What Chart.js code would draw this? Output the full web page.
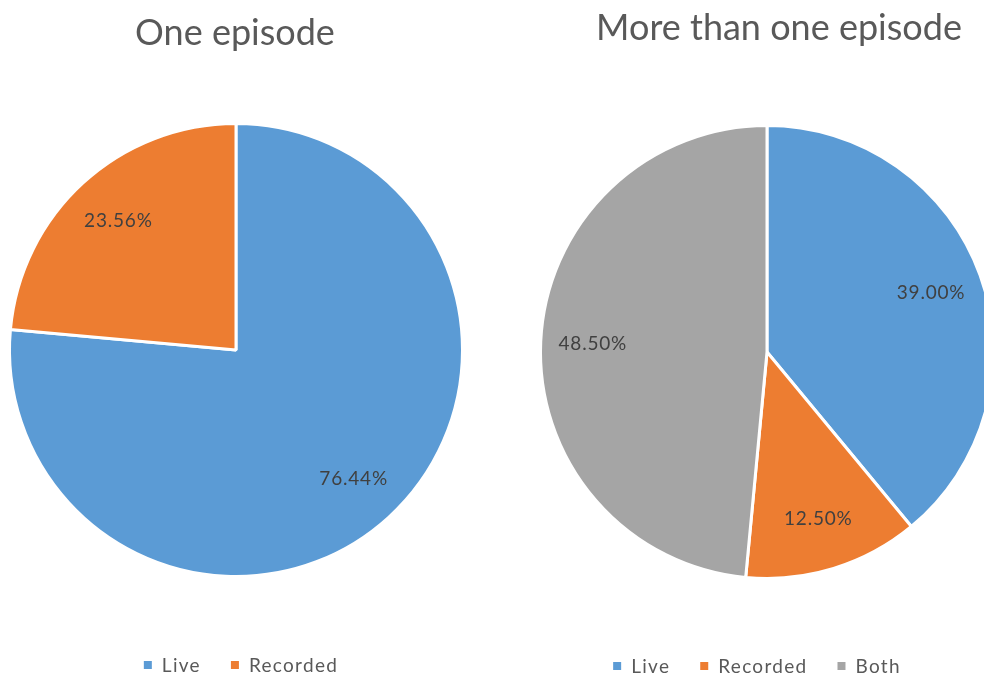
<!DOCTYPE html>
<html>
<head>
<meta charset="utf-8">
<script src="https://cdn.jsdelivr.net/npm/chart.js@4.4.0/dist/chart.umd.min.js"></script>
<style>
  html, body { margin: 0; padding: 0; background: #fff; overflow: hidden; width: 984px; height: 677px; }
  canvas { position: absolute; top: 0; }
  #leftPie { left: 0; }
  #rightPie { left: 492px; }
</style>
</head>
<body>
<canvas id="leftPie" width="492" height="677"></canvas>
<canvas id="rightPie" width="520" height="677"></canvas>
<script>
// data
const leftLabels = ["Live", "Recorded"];
const leftValues = [76.44, 23.56];
const rightLabels = ["Live", "Recorded", "Both"];
const rightValues = [39.00, 12.50, 48.50];
const sliceColors = ["#5B9BD5", "#ED7D31", "#A5A5A5"];

// titles, value labels and legend drawn on the canvas
const pieText = {
    id: "pieText",
    afterDraw(chart, args, opts) {
        const ctx = chart.ctx;
        const area = chart.chartArea;
        const cx = (area.left + area.right) / 2;
        ctx.save();

        // title
        ctx.fillStyle = "#595959";
        ctx.font = "36px Lato";
        ctx.textAlign = "center";
        ctx.textBaseline = "middle";
        ctx.fillText(opts.title, cx + opts.titleDx, opts.titleY);

        // value labels
        const values = chart.data.datasets[0].data;
        ctx.font = "19px Lato";
        ctx.fillStyle = "#404040";
        ctx.letterSpacing = "0.8px";
        chart.getDatasetMeta(0).data.forEach((arc, i) => {
            const p = arc.getProps(["x", "y", "startAngle", "endAngle", "outerRadius"], true);
            const mid = (p.startAngle + p.endAngle) / 2;
            const r = p.outerRadius * 0.77;
            ctx.fillText(values[i].toFixed(2) + "%", p.x + Math.cos(mid) * r, p.y + Math.sin(mid) * r);
        });

        // legend
        ctx.font = "19px Lato";
        ctx.letterSpacing = "1.3px";
        ctx.textAlign = "left";
        const labels = chart.data.labels;
        const box = 8, gap = 10, itemGap = 30;
        const widths = labels.map(l => ctx.measureText(l).width);
        let total = 0;
        widths.forEach((w, i) => { total += box + gap + w + (i < labels.length - 1 ? itemGap : 0); });
        let x = cx + opts.legendDx - total / 2;
        const y = opts.legendY;
        labels.forEach((l, i) => {
            ctx.fillStyle = sliceColors[i];
            ctx.fillRect(x, y - box / 2, box, box);
            x += box + gap;
            ctx.fillStyle = "#595959";
            ctx.fillText(l, x, y + 1);
            x += widths[i] + itemGap;
        });
        ctx.restore();
    }
};

function makePie(id, labels, values, padding, textOpts) {
    return new Chart(document.getElementById(id), {
        type: "pie",
        data: {
            labels: labels,
            datasets: [{
                data: values,
                backgroundColor: sliceColors.slice(0, values.length),
                borderColor: "#ffffff",
                borderWidth: 3
            }]
        },
        options: {
            responsive: false,
            animation: false,
            layout: { padding: padding },
            plugins: {
                legend: { display: false },
                title: { display: false },
                tooltip: { enabled: false },
                pieText: textOpts
            }
        },
        plugins: [pieText]
    });
}

makePie("leftPie", leftLabels, leftValues,
    { left: 8, right: 28, top: 122, bottom: 99 },
    { title: "One episode", titleDx: -1, titleY: 33, legendDx: 5, legendY: 665 });

makePie("rightPie", rightLabels, rightValues,
    { left: 47, right: 17, top: 124, bottom: 97 },
    { title: "More than one episode", titleDx: 12, titleY: 28, legendDx: -10, legendY: 666 });
</script>
</body>
</html>
